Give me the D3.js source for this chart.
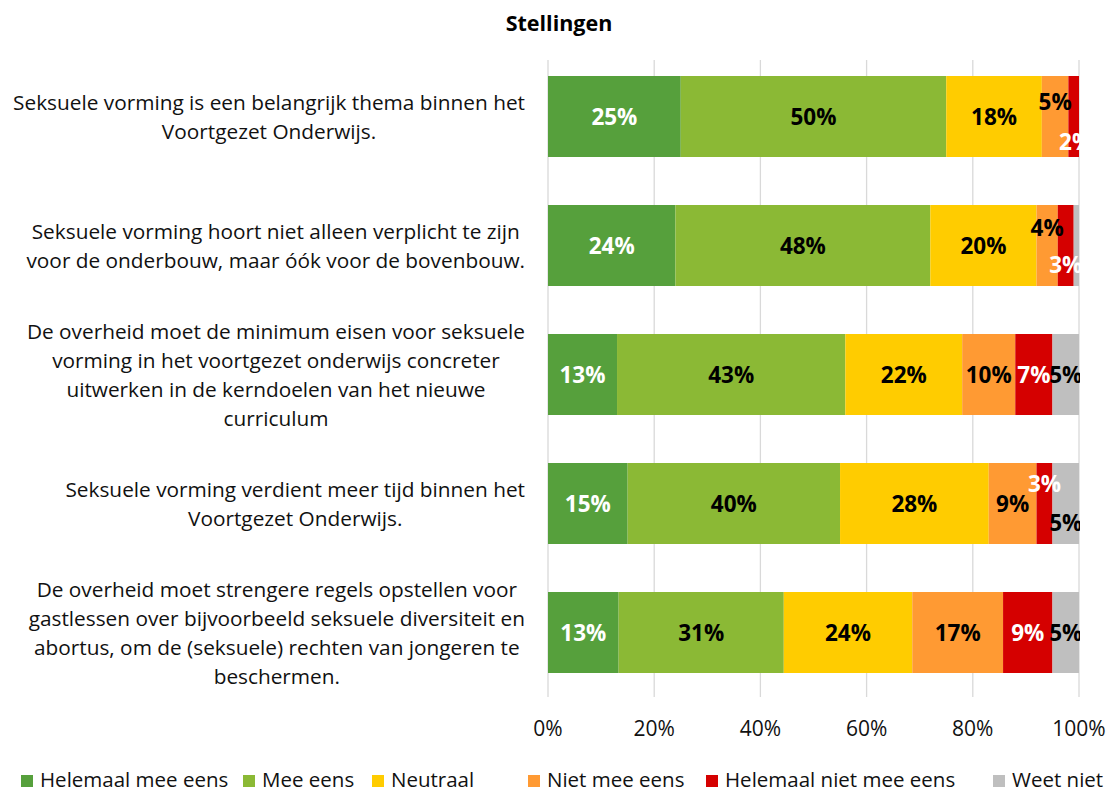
<!DOCTYPE html>
<html>
<head>
<meta charset="utf-8">
<script src="https://cdn.jsdelivr.net/npm/d3@7"></script>
<style>
  body { margin: 0; background: #fff; }
  text { font-family: "Open Sans", sans-serif; }
</style>
</head>
<body>
<div id="chart"></div>
<script>
const statements = [
  ["Seksuele vorming is een belangrijk thema binnen het", "Voortgezet Onderwijs."],
  ["Seksuele vorming hoort niet alleen verplicht te zijn", "voor de onderbouw, maar óók voor de bovenbouw."],
  ["De overheid moet de minimum eisen voor seksuele", "vorming in het voortgezet onderwijs concreter", "uitwerken in de kerndoelen van het nieuwe", "curriculum"],
  ["Seksuele vorming verdient meer tijd binnen het", "Voortgezet Onderwijs."],
  ["De overheid moet strengere regels opstellen voor", "gastlessen over bijvoorbeeld seksuele diversiteit en", "abortus, om de (seksuele) rechten van jongeren te", "beschermen."]
];
const answers = ["Helemaal mee eens", "Mee eens", "Neutraal", "Niet mee eens", "Helemaal niet mee eens", "Weet niet"];
const colors = ["#56a03c", "#8bb935", "#ffcc00", "#ff9a33", "#d50000", "#bfbfbf"];
const labelColors = ["#fff", "#000", "#000", "#000", "#fff", "#000"];

// percentages per statement, in order of answers
const helemaalMeeEens = [25, 24, 13, 15, 13.3];
const meeEens = [50, 48, 43, 40, 31.1];
const neutraal = [18, 20, 22, 28, 24.2];
const nietMeeEens = [5, 4, 10, 9, 17.1];
const helemaalNiet = [2, 3, 7, 3, 9.3];
const weetNiet = [0, 1, 5, 5, 5];
const series = [helemaalMeeEens, meeEens, neutraal, nietMeeEens, helemaalNiet, weetNiet];
const xTicks = [0, 20, 40, 60, 80, 100];

// labels that were dragged off-centre in the original (row-series)
const labelShift = {
  "0-3": { dx: 0, dy: -15 }, "0-4": { dx: 2, dy: 25 },
  "1-3": { dx: 0, dy: -18 }, "1-4": { dx: 0, dy: 19 },
  "3-4": { dx: 0, dy: -20 }, "3-5": { dx: 0, dy: 19 }
};
const hiddenLabels = { "1-5": true };

const W = 1116, H = 793;
const plotL = 548, plotR = 1079;

const svg = d3.select("#chart").append("svg")
  .attr("width", W).attr("height", H);

svg.append("defs").append("clipPath").attr("id", "plotclip")
  .append("rect").attr("x", plotL).attr("y", 40).attr("width", plotR - plotL + 1).attr("height", 680);

svg.append("text")
  .attr("x", 559).attr("y", 31)
  .attr("text-anchor", "middle")
  .attr("font-size", 21.5).attr("font-weight", "bold")
  .text("Stellingen");

const x = d3.scaleLinear().domain([0, 100]).range([plotL, plotR]);
const y = d3.scaleBand()
  .domain(d3.range(statements.length))
  .range([52, 697])
  .paddingInner(48 / 129).paddingOuter(24 / 129);

// gridlines
svg.append("g").selectAll("line")
  .data(xTicks).enter().append("line")
  .attr("x1", d => x(d)).attr("x2", d => x(d))
  .attr("y1", 60).attr("y2", 697)
  .attr("stroke", "#d9d9d9").attr("stroke-width", 1.3);

// x tick labels
svg.append("g").selectAll("text")
  .data(xTicks).enter().append("text")
  .attr("x", d => x(d)).attr("y", 736)
  .attr("text-anchor", "middle")
  .attr("font-size", 21).attr("fill", "#111")
  .text(d => d + "%");

// stacked bars
const segs = statements.map((s, i) => {
  let acc = 0;
  return series.map((vals, k) => {
    const v = vals[i];
    const seg = { row: i, k: k, x0: acc, x1: acc + v, v: v };
    acc += v;
    return seg;
  });
}).flat();

svg.append("g").selectAll("rect")
  .data(segs.filter(d => d.v > 0)).enter().append("rect")
  .attr("x", d => x(d.x0))
  .attr("width", d => x(d.x1) - x(d.x0))
  .attr("y", d => y(d.row))
  .attr("height", y.bandwidth())
  .attr("fill", d => colors[d.k]);

const shift = d => labelShift[d.row + "-" + d.k] || { dx: 0, dy: 0 };
svg.append("g").attr("clip-path", "url(#plotclip)")
  .selectAll("text")
  .data(segs.filter(d => d.v > 0 && !hiddenLabels[d.row + "-" + d.k])).enter().append("text")
  .attr("x", d => (x(d.x0) + x(d.x1)) / 2 + shift(d).dx)
  .attr("y", d => y(d.row) + y.bandwidth() / 2 + 8.5 + shift(d).dy)
  .attr("text-anchor", "middle")
  .attr("font-size", 22.5).attr("font-weight", "bold")
  .attr("fill", d => labelColors[d.k])
  .text(d => Math.round(d.v) + "%");

// category labels: block right aligned, lines centred within block
const lineH = 29;
statements.forEach((lines, i) => {
  const g = svg.append("g");
  const texts = lines.map(l => g.append("text")
    .attr("font-size", 20.8).attr("fill", "#111")
    .attr("text-anchor", "middle")
    .text(l));
  const maxW = d3.max(texts, t => t.node().getComputedTextLength());
  const cx = 525 - maxW / 2;
  const cy = y(i) + y.bandwidth() / 2;
  const top = cy - (lines.length - 1) * lineH / 2 + 8;
  texts.forEach((t, j) => t.attr("x", cx).attr("y", top + j * lineH));
});

// legend
const legendX = [21, 243, 372, 528, 706, 993];
const lg = svg.append("g").selectAll("g")
  .data(answers).enter().append("g")
  .attr("transform", (d, i) => `translate(${legendX[i]},775)`);
lg.append("rect").attr("width", 12).attr("height", 12).attr("fill", (d, i) => colors[i]);
lg.append("text").attr("x", 19).attr("y", 12)
  .attr("font-size", 20.5).attr("fill", "#111")
  .text(d => d);
</script>
</body>
</html>
